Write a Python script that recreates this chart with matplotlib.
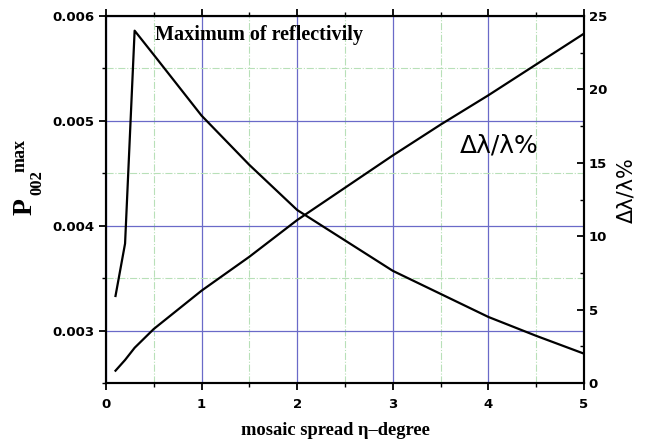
import matplotlib.pyplot as plt
from matplotlib.ticker import MultipleLocator, FormatStrFormatter

# mosaic spread (degrees)
eta = [0.1, 0.2, 0.3, 0.5, 1.0, 1.5, 2.0, 2.5, 3.0, 3.5, 4.0, 4.5, 5.0]
# maximum of reflectivity P002
p_max = [0.00333, 0.00383, 0.00586, 0.00563, 0.00505, 0.00458, 0.00415,
         0.00386, 0.00357, 0.00335, 0.00313, 0.00295, 0.00278]
# resolution dl/l in %
dl = [0.84, 1.57, 2.4, 3.68, 6.29, 8.6, 11.1, 13.3, 15.5, 17.6, 19.6, 21.7, 23.8]

fig = plt.figure(figsize=(6.46, 4.43), dpi=100)
ax = fig.add_axes([0.164, 0.1354, 0.740, 0.8285])
ax2 = ax.twinx()

ax.plot(eta, p_max, color='black', lw=1.6)
ax2.plot(eta, dl, color='black', lw=1.6)

ax.set_xlim(0, 5)
ax.set_ylim(0.0025, 0.006)
ax2.set_ylim(0, 25)

ax.xaxis.set_major_locator(MultipleLocator(1))
ax.xaxis.set_minor_locator(MultipleLocator(0.5))
ax.yaxis.set_major_locator(MultipleLocator(0.001))
ax.yaxis.set_minor_locator(MultipleLocator(0.0005))
ax.yaxis.set_major_formatter(FormatStrFormatter('%.3f'))
ax2.yaxis.set_major_locator(MultipleLocator(5))
ax2.yaxis.set_minor_locator(MultipleLocator(2.5))

# grid: blue solid on major, green dash-dot on minor
ax.grid(which='major', color='#6a6ac8', lw=0.9, ls='-')
ax.grid(which='minor', color='#b8e0b8', lw=0.8, ls='-.')
ax.set_axisbelow(True)

for a in (ax, ax2):
    for s in a.spines.values():
        s.set_linewidth(1.5)

ax.tick_params(axis='both', which='major', labelsize=9.5, width=1.3, length=5)
ax.tick_params(axis='x', which='major', pad=6)
ax.tick_params(axis='both', which='minor', width=1.0, length=3)
ax.tick_params(axis='x', which='both', top=True, direction='out')
ax2.tick_params(axis='y', which='major', labelsize=9.5, width=1.3, length=5, direction='in')
ax2.tick_params(axis='y', which='minor', width=1.0, length=3, direction='in')
for lab in ax.get_xticklabels() + ax.get_yticklabels() + ax2.get_yticklabels():
    lab.set_fontweight('bold')

ax.set_xlabel('mosaic spread η–degree', family='Liberation Serif',
              fontweight='bold', fontsize=13.3)
ax.xaxis.set_label_coords(0.48, -0.105)

# left axis label P_002^max, pieces placed by hand
serif = dict(family='Liberation Serif', fontweight='bold', rotation=90,
             ha='center', va='center')
fig.text(0.0395, 0.5327, 'P', fontsize=20, **serif)
fig.text(0.058, 0.589, '002', fontsize=12, **serif)
fig.text(0.031, 0.648, 'max', fontsize=13, **serif)

# right axis label
fig.text(0.969, 0.571, 'Δλ/λ%', fontsize=15, rotation=90, ha='center', va='center')

ax.text(1.6, 0.00582, 'Maximum of reflectivily', family='Liberation Serif',
        fontweight='bold', fontsize=14.5, ha='center', va='center')
ax2.text(4.11, 16.2, 'Δλ/λ%', fontsize=18, ha='center', va='center')

plt.savefig('out.png', dpi=100)
